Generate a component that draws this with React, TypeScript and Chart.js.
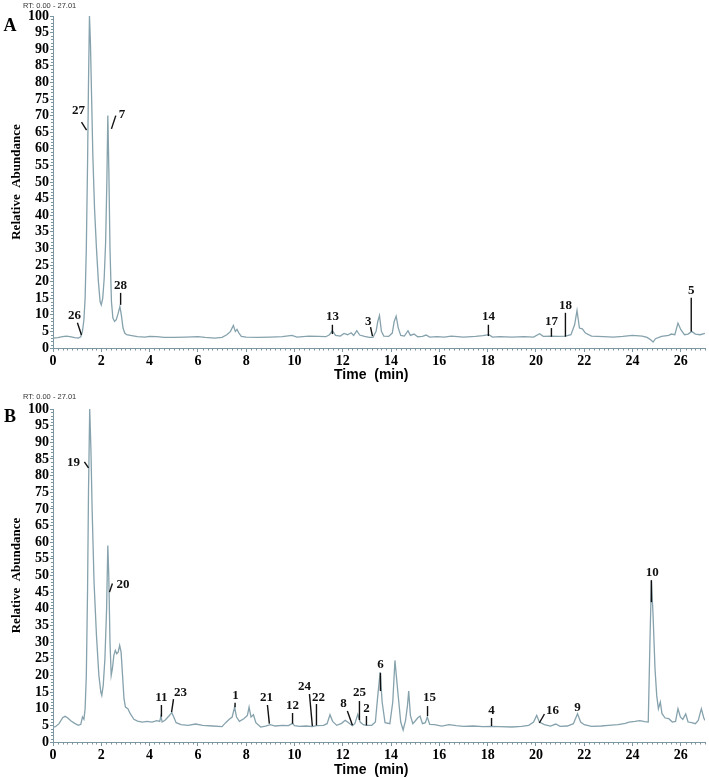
import { useEffect, useRef } from 'react';
import { Chart, registerables } from 'chart.js';

Chart.register(...registerables);

// ---------- Data ----------
const timeA = [
  0.0, 0.2, 0.4, 0.55, 0.7, 0.9, 1.05, 1.15, 1.22, 1.28, 1.33, 1.38, 1.43, 1.47, 1.51, 1.55, 1.6, 1.65, 1.72, 1.8,
  1.88, 1.95, 2.0, 2.06, 2.12, 2.18, 2.23, 2.27, 2.31, 2.36, 2.42, 2.48, 2.55, 2.62, 2.7, 2.77, 2.83, 2.9, 2.97, 3.05,
  3.2, 3.5, 3.8, 4.0, 4.3, 4.6, 5.0, 5.5, 6.0, 6.3, 6.7, 7.0, 7.2, 7.35, 7.47, 7.55, 7.62, 7.7, 7.8, 8.0,
  8.5, 9.0, 9.5, 9.9, 10.1, 10.6, 11.0, 11.3, 11.45, 11.57, 11.7, 11.9, 12.05, 12.2, 12.35, 12.45, 12.58, 12.7, 12.9, 13.1,
  13.25, 13.38, 13.45, 13.52, 13.6, 13.7, 13.9, 14.05, 14.13, 14.21, 14.3, 14.4, 14.55, 14.7, 14.8, 14.95, 15.1, 15.3, 15.45, 15.6,
  15.9, 16.2, 16.5, 17.0, 17.5, 17.8, 18.05, 18.2, 18.5, 19.0, 19.5, 19.9, 20.15, 20.3, 20.64, 20.9, 21.22, 21.45, 21.6, 21.7,
  21.8, 21.92, 22.05, 22.3, 22.8, 23.2, 23.6, 24.0, 24.4, 24.6, 24.75, 24.85, 24.95, 25.2, 25.5, 25.6, 25.75, 25.88, 26.0, 26.15,
  26.3, 26.45, 26.6, 26.8, 27.0,
];
const abundanceA = [
  3.0, 3.1, 3.4, 3.6, 3.4, 3.1, 3.0, 3.4, 5.0, 8.5, 15, 30, 55, 80, 100, 92, 75, 58, 42, 30,
  20, 14, 13, 15, 21, 32, 50, 70, 55, 30, 14, 9, 8, 8.5, 10.5, 12.5, 10, 6, 4.5, 4,
  3.8, 3.4, 3.3, 3.5, 3.4, 3.2, 3.2, 3.3, 3.4, 3.2, 3.0, 3.2, 4.0, 5.0, 6.8, 5.0, 5.6, 4.5, 3.5, 3.3,
  3.2, 3.3, 3.4, 3.8, 3.3, 3.6, 3.5, 3.4, 4.0, 5.2, 3.8, 3.6, 4.4, 4.0, 4.6, 3.8, 5.2, 3.9, 3.5, 3.2,
  3.2, 5, 8, 9.8, 5, 3.6, 3.5, 4.5, 8, 9.6, 6, 3.8, 3.6, 5.2, 3.8, 4.2, 3.4, 3.5, 3.9, 3.3,
  3.4, 3.3, 3.6, 3.3, 3.5, 3.7, 4.0, 3.3, 3.4, 3.3, 3.4, 3.3, 4.3, 3.5, 3.6, 3.5, 3.6, 4.0, 7, 11.3,
  6, 5.8, 4.5, 3.6, 3.4, 3.3, 3.5, 3.8, 3.6, 3.2, 2.5, 1.8, 2.8, 3.5, 3.8, 4.2, 4.0, 7.5, 5.5, 4.0,
  4.2, 5.0, 4.2, 4.0, 4.4,
];

const timeB = [
  0.0, 0.1, 0.25, 0.4, 0.5, 0.6, 0.75, 0.9, 1.05, 1.15, 1.22, 1.28, 1.33, 1.38, 1.43, 1.47, 1.52, 1.57, 1.62, 1.7,
  1.8, 1.9, 1.98, 2.02, 2.08, 2.15, 2.22, 2.27, 2.31, 2.36, 2.41, 2.46, 2.52, 2.58, 2.64, 2.7, 2.76, 2.82, 2.88, 2.94,
  3.0, 3.1, 3.2, 3.35, 3.5, 3.7, 3.9, 4.1, 4.3, 4.42, 4.47, 4.52, 4.65, 4.8, 4.92, 5.0, 5.1, 5.3, 5.6, 5.9,
  6.2, 6.6, 7.0, 7.15, 7.3, 7.42, 7.52, 7.6, 7.72, 7.9, 8.05, 8.12, 8.2, 8.3, 8.4, 8.6, 8.8, 9.0, 9.2, 9.5,
  9.75, 9.92, 10.0, 10.2, 10.5, 10.74, 10.91, 11.2, 11.35, 11.47, 11.58, 11.75, 11.95, 12.1, 12.2, 12.4, 12.5, 12.62, 12.72, 12.85,
  12.98, 13.2, 13.35, 13.45, 13.55, 13.63, 13.75, 13.95, 14.07, 14.16, 14.28, 14.4, 14.5, 14.6, 14.68, 14.73, 14.8, 14.9, 15.0, 15.1,
  15.2, 15.3, 15.42, 15.5, 15.6, 15.8, 16.1, 16.4, 16.7, 17.0, 17.4, 17.8, 18.15, 18.5, 19.0, 19.4, 19.7, 19.9, 20.03, 20.14,
  20.35, 20.6, 20.82, 21.0, 21.3, 21.55, 21.72, 21.85, 22.0, 22.3, 22.7, 23.0, 23.4, 23.7, 23.85, 24.1, 24.3, 24.5, 24.65, 24.72,
  24.78, 24.85, 24.93, 25.0, 25.07, 25.15, 25.22, 25.35, 25.5, 25.65, 25.78, 25.88, 25.98, 26.08, 26.2, 26.3, 26.45, 26.6, 26.72, 26.85,
  26.95, 27.0,
];
const abundanceB = [
  4.5, 4.6, 5.5, 7.3, 7.7, 7.3, 6.3, 5.6, 5.0, 5.3, 7.5, 6.8, 10, 20, 45, 75, 100, 88, 70, 48,
  32, 20, 15, 14, 17, 25, 40, 59, 50, 30, 20, 22, 26, 27.5, 26.5, 27, 29, 27, 20, 13,
  10.5, 10, 8.5, 6.8, 6.3, 6.0, 6.2, 6.0, 6.4, 6.2, 7.8, 6.0, 6.6, 7.8, 8.8, 7.5, 5.8, 5.2, 5.0, 5.4,
  5.0, 4.8, 4.6, 5.8, 6.8, 7.5, 10.5, 7.5, 6.2, 7.0, 8.0, 10.5, 7.5, 8.2, 5.8, 4.5, 4.8, 5.2, 4.8, 5.0,
  4.9, 5.6, 4.9, 4.7, 4.8, 4.6, 4.9, 5.0, 5.5, 8.2, 6.2, 5.0, 5.6, 6.5, 6.0, 4.9, 5.5, 8.3, 6.0, 5.2,
  5.0, 5.0, 6.0, 14, 21, 12, 5.8, 5.5, 12, 24.5, 15, 6, 3.6, 6.5, 11, 15.3, 8, 5.5, 6.3, 7.2,
  7.8, 5.5, 5.8, 7.5, 5.3, 5.2, 4.8, 5.2, 4.9, 4.7, 4.8, 4.6, 4.7, 4.6, 4.5, 4.7, 5.0, 6.0, 8.0, 6.0,
  5.2, 4.8, 5.4, 4.7, 4.8, 5.5, 8.5, 6.0, 5.2, 4.7, 4.8, 5.0, 5.2, 5.6, 6.0, 6.2, 6.4, 6.1, 6.0, 30,
  48.5, 38, 22, 14, 10, 12, 8.5, 7.2, 7.0, 6.0, 6.2, 10, 7.5, 6.8, 8.4, 6.0, 5.8, 5.5, 6.5, 10,
  7.2, 6.5,
];

const xTickValues = [0, 2, 4, 6, 8, 10, 12, 14, 16, 18, 20, 22, 24, 26];
const yTickValues = [0, 5, 10, 15, 20, 25, 30, 35, 40, 45, 50, 55, 60, 65, 70, 75, 80, 85, 90, 95, 100];

// Peak labels: [text, labelTime, labelAbundance, lineFromTime, lineFromAbundance, lineToTime, lineToAbundance]
type Mark = [string, number, number, number | null, number | null, number | null, number | null];
const peakLabelsA: Mark[] = [
  ['27', 1.06, 71.6, 1.18, 68.0, 1.39, 65.6],
  ['7', 2.86, 70.2, 2.42, 66.0, 2.6, 70.0],
  ['26', 0.89, 9.7, 1.01, 7.6, 1.18, 3.9],
  ['28', 2.8, 18.7, 2.8, 16.6, 2.8, 13.0],
  ['13', 11.57, 9.4, 11.57, 7.0, 11.57, 4.2],
  ['3', 13.06, 7.9, 13.15, 6.3, 13.23, 3.6],
  ['14', 18.03, 9.4, 18.03, 7.0, 18.03, 3.6],
  ['17', 20.64, 7.9, 20.64, 6.0, 20.64, 3.4],
  ['18', 21.22, 12.7, 21.22, 10.6, 21.22, 3.4],
  ['5', 26.43, 17.2, 26.43, 15.1, 26.43, 5.0],
];
const peakLabelsB: Mark[] = [
  ['19', 0.85, 83.8, 1.3, 84.1, 1.47, 82.3],
  ['20', 2.9, 47.4, 2.34, 45.0, 2.46, 47.6],
  ['11', 4.49, 13.2, 4.49, 11.1, 4.49, 7.6],
  ['23', 5.28, 14.7, 4.99, 12.9, 4.91, 9.0],
  ['1', 7.56, 13.8, 7.54, 11.8, 7.54, 10.4],
  ['21', 8.84, 13.2, 8.88, 11.1, 8.96, 5.5],
  ['12', 9.92, 10.8, 9.92, 8.7, 9.92, 5.5],
  ['24', 10.41, 16.5, 10.62, 14.4, 10.74, 4.8],
  ['22', 10.99, 13.2, 10.91, 11.4, 10.91, 5.0],
  ['8', 12.03, 11.4, 12.19, 9.3, 12.4, 5.0],
  ['25', 12.69, 14.7, 12.69, 12.3, 12.69, 6.6],
  ['2', 12.98, 9.9, 12.98, 7.8, 12.98, 5.0],
  ['6', 13.56, 23.1, 13.56, 20.7, 13.56, 15.3],
  ['15', 15.59, 13.2, 15.51, 10.8, 15.51, 7.8],
  ['4', 18.16, 9.3, 18.16, 7.2, 18.16, 4.8],
  ['16', 20.68, 9.3, 20.35, 8.4, 20.14, 5.7],
  ['9', 21.72, 10.4, null, null, null, null],
  ['10', 24.82, 51.0, 24.78, 48.6, 24.78, 42.0],
];

// ---------- Styling ----------
const TRACE = '#86a2ad';
const AXIS = '#7b96a1';
const SERIF = '"Liberation Serif", "Times New Roman", serif';
const SANS = '"Liberation Sans", Arial, sans-serif';

const decorPlugin = {
  id: 'decor',
  afterDatasetsDraw(chart: any, _args: any, opts: any) {
    const { ctx, scales } = chart;
    const xs = scales.x;
    const ys = scales.y;
    ctx.save();
    // minor ticks
    ctx.strokeStyle = AXIS;
    ctx.lineWidth = 1;
    ctx.beginPath();
    const axisY = ys.getPixelForValue(0);
    for (let i = 0; i <= 135; i++) {
      const v = i * 0.2;
      if (i % 10 === 0) continue;
      const px = Math.round(xs.getPixelForValue(v)) + 0.5;
      ctx.moveTo(px, axisY);
      ctx.lineTo(px, axisY + 2.5);
    }
    const axisX = xs.getPixelForValue(0);
    for (let v = 1; v < 100; v++) {
      if (v % 5 === 0) continue;
      const py = Math.round(ys.getPixelForValue(v)) + 0.5;
      ctx.moveTo(axisX - 2, py);
      ctx.lineTo(axisX, py);
    }
    ctx.stroke();

    // peak labels
    ctx.strokeStyle = '#111';
    ctx.fillStyle = '#111';
    ctx.lineWidth = 1.4;
    ctx.font = `bold 13px ${SERIF}`;
    ctx.textAlign = 'center';
    ctx.textBaseline = 'middle';
    for (const m of opts.marks as Mark[]) {
      const [text, tx, ty, x1, y1, x2, y2] = m;
      if (x1 !== null && y1 !== null && x2 !== null && y2 !== null) {
        ctx.beginPath();
        ctx.moveTo(xs.getPixelForValue(x1), ys.getPixelForValue(y1));
        ctx.lineTo(xs.getPixelForValue(x2), ys.getPixelForValue(y2));
        ctx.stroke();
      }
      ctx.fillText(text, xs.getPixelForValue(tx), ys.getPixelForValue(ty));
    }

    // panel letter and RT range
    ctx.fillStyle = '#000';
    ctx.font = `bold 18px ${SERIF}`;
    ctx.textAlign = 'center';
    ctx.fillText(opts.letter, 10, opts.letterY);
    ctx.fillStyle = '#333';
    ctx.font = `7.5px ${SANS}`;
    ctx.textAlign = 'left';
    ctx.fillText('RT: 0.00 - 27.01', 23, opts.rtY);
    ctx.restore();
  },
};

function makeConfig(times: number[], values: number[], marks: Mark[], p: any) {
  return {
    type: 'line',
    data: {
      datasets: [
        {
          data: times.map((t, i) => ({ x: t, y: values[i] })),
          borderColor: TRACE,
          borderWidth: 1.3,
          pointRadius: 0,
          tension: 0,
          fill: false,
        },
      ],
    },
    plugins: [decorPlugin],
    options: {
      animation: false,
      responsive: false,
      devicePixelRatio: 1,
      layout: { padding: { top: p.top, right: 4, left: 0, bottom: 0 } },
      plugins: {
        legend: { display: false },
        tooltip: { enabled: false },
        decor: { marks, letter: p.letter, letterY: p.letterY, rtY: p.rtY },
      },
      scales: {
        x: {
          type: 'linear',
          min: 0,
          max: 27,
          afterBuildTicks: (s: any) => {
            s.ticks = xTickValues.map((v) => ({ value: v }));
          },
          afterFit: (s: any) => {
            s.height = p.xHeight;
          },
          grid: { drawOnChartArea: false, drawTicks: true, tickLength: 4, color: AXIS },
          border: { display: true, color: AXIS, width: 1 },
          ticks: {
            autoSkip: false,
            maxRotation: 0,
            padding: 2,
            color: '#000',
            font: { family: SERIF, weight: 'bold', size: 14, lineHeight: 1 },
          },
          title: {
            display: true,
            text: 'Time  (min)    ',
            color: '#000',
            font: { family: SANS, weight: 'bold', size: 14, lineHeight: 1 },
            padding: { top: 0, bottom: p.titlePad },
          },
        },
        y: {
          type: 'linear',
          min: 0,
          max: 100,
          afterBuildTicks: (s: any) => {
            s.ticks = yTickValues.map((v) => ({ value: v }));
          },
          afterFit: (s: any) => {
            s.width = 53;
          },
          grid: { drawOnChartArea: false, drawTicks: true, tickLength: 3, color: AXIS },
          border: { display: true, color: AXIS, width: 1 },
          ticks: {
            autoSkip: false,
            padding: 1,
            color: '#000',
            font: { family: SERIF, weight: 'bold', size: 14, lineHeight: 1 },
          },
          title: {
            display: true,
            text: 'Relative  Abundance',
            color: '#000',
            font: { family: SERIF, weight: 'bold', size: 13, lineHeight: 1.2 },
            padding: { top: 9, bottom: 0 },
          },
        },
      },
    },
  };
}

export default function App() {
  const refA = useRef<HTMLCanvasElement>(null);
  const refB = useRef<HTMLCanvasElement>(null);

  useEffect(() => {
    const a = new Chart(
      refA.current as HTMLCanvasElement,
      makeConfig(timeA, abundanceA, peakLabelsA, {
        top: 16,
        xHeight: 42,
        titlePad: 8,
        letter: 'A',
        letterY: 26,
        rtY: 6,
      }) as any
    );
    const b = new Chart(
      refB.current as HTMLCanvasElement,
      makeConfig(timeB, abundanceB, peakLabelsB, {
        top: 19,
        xHeight: 36,
        titlePad: 1,
        letter: 'B',
        letterY: 27,
        rtY: 7,
      }) as any
    );
    return () => {
      a.destroy();
      b.destroy();
    };
  }, []);

  return (
    <div style={{ position: 'absolute', left: 0, top: 0, width: 709, height: 778, background: '#fff' }}>
      <canvas ref={refA} width={709} height={390} style={{ display: 'block', width: 709, height: 390 }} />
      <canvas ref={refB} width={709} height={388} style={{ display: 'block', width: 709, height: 388 }} />
    </div>
  );
}
